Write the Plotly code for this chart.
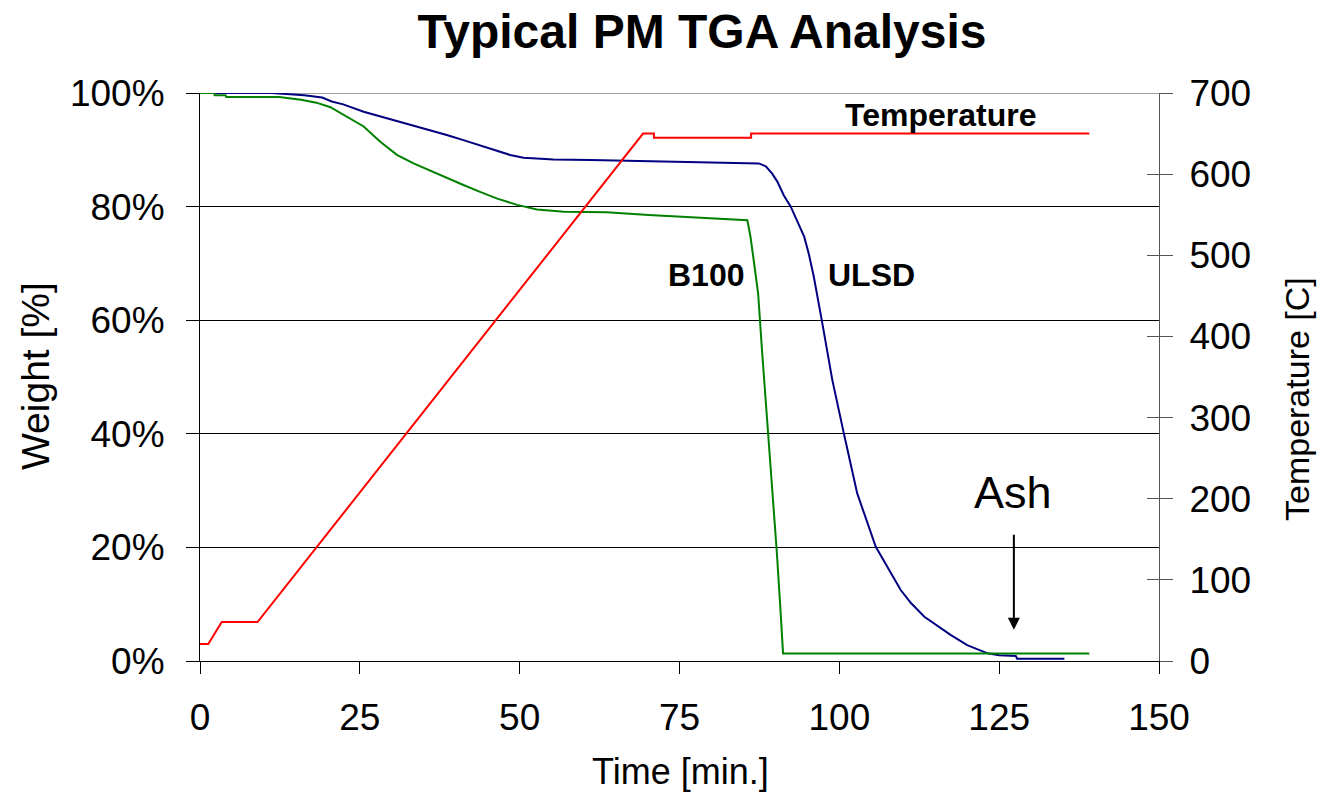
import plotly.graph_objects as go

# ---- data ----
temp_t = [0, 1.3, 3.4, 9.0, 69.3, 71.0, 71.0, 86.2, 86.2, 139.1]
temp_c = [21, 21, 48, 48, 650, 650, 645, 645, 650, 650]

ulsd_t = [0, 11.2, 16.3, 19.1, 20.6, 22.4, 25.6, 28.2, 30.8, 33.4, 36.0, 38.6, 41.2,
          43.8, 46.5, 48.5, 50.6, 53.0, 55.3, 61.1, 87.1, 87.4, 88.5, 89.5, 90.3,
          91.3, 92.4, 93.4, 94.5, 95.2, 96.0, 97.3, 98.9, 100.7, 102.8, 105.7,
          107.5, 109.6, 111.2, 113.3, 117.4, 120.0, 123.2, 125.0, 127.6, 127.8, 135.2]
ulsd_w = [100, 100, 99.6, 99.2, 98.5, 98.0, 96.7, 95.9, 95.1, 94.3, 93.5, 92.6, 91.7,
          90.8, 89.8, 89.1, 88.6, 88.4, 88.3, 88.2, 87.7, 87.6, 87.1, 85.8, 84.4,
          82.0, 80.0, 77.4, 74.7, 71.8, 67.7, 59.7, 49.5, 40.1, 29.5, 20.1,
          16.6, 12.5, 10.2, 7.8, 4.6, 2.8, 1.35, 1.0, 0.9, 0.4, 0.4]

b100_t = [0, 2.2, 2.3, 4.0, 4.1, 12.4, 15.8, 18.2, 20.4, 22.8, 25.6, 28.2, 30.8, 33.4,
          36.0, 38.6, 41.2, 43.8, 46.5, 49.6, 52.7, 56.9, 63.6, 70.2, 74.9, 85.6,
          85.8, 86.1, 86.6, 87.3, 87.9, 88.7, 89.5, 90.2, 90.7, 91.1, 91.2, 139.1]
b100_w = [100, 100, 99.6, 99.6, 99.3, 99.3, 98.8, 98.3, 97.5, 95.9, 94.1, 91.4, 89.1, 87.6,
          86.3, 85.0, 83.8, 82.6, 81.4, 80.3, 79.5, 79.1, 79.0, 78.5, 78.2, 77.6,
          76.5, 74.7, 70.6, 64.7, 54.8, 43.0, 31.3, 19.5, 10.7, 1.9, 1.3, 1.3]

x_ticks = [0, 25, 50, 75, 100, 125, 150]
w_ticks = [0, 20, 40, 60, 80, 100]
w_labels = ["0%", "20%", "40%", "60%", "80%", "100%"]
t_ticks = [0, 100, 200, 300, 400, 500, 600, 700]

FONT = "Liberation Sans, Arial, sans-serif"

# plot-area geometry in pixels (for paper-referenced text)
L, R, T, B = 200, 1159, 93, 661
def px(x):
    return (x - L) / (R - L)
def py(y):
    return (B - y) / (B - T)

fig = go.Figure()
fig.add_trace(go.Scatter(x=temp_t, y=temp_c, mode="lines", yaxis="y2",
                         line=dict(color="#FF0000", width=2), name="Temperature"))
fig.add_trace(go.Scatter(x=ulsd_t, y=ulsd_w, mode="lines",
                         line=dict(color="#000080", width=2), name="ULSD"))
fig.add_trace(go.Scatter(x=b100_t, y=b100_w, mode="lines",
                         line=dict(color="#008000", width=2), name="B100"))

fig.update_layout(
    width=1322, height=803,
    margin=dict(l=L, r=1322 - R, t=T, b=803 - B),
    paper_bgcolor="white", plot_bgcolor="white",
    showlegend=False,
    font=dict(family=FONT, color="black"),
    title=dict(text="<b>Typical PM TGA Analysis</b>", x=702 / 1322, xanchor="center",
               xref="container",
               y=1 - 31 / 803, yanchor="middle", font=dict(size=48, family=FONT)),
    xaxis=dict(range=[0, 150], tickvals=x_ticks, showgrid=False, zeroline=False,
               showline=True, linecolor="black", linewidth=1,
               ticks="outside", ticklen=12, tickcolor="black",
               tickfont=dict(size=37), ticklabelstandoff=12),
    yaxis=dict(range=[0, 100], tickvals=w_ticks, ticktext=w_labels, showgrid=True,
               gridcolor="black", gridwidth=1, zeroline=False,
               showline=True, linecolor="black", linewidth=1,
               ticks="outside", ticklen=13, tickcolor="black",
               tickfont=dict(size=37), ticklabelstandoff=14),
    yaxis2=dict(range=[0, 700], tickvals=t_ticks, overlaying="y", side="right",
                showgrid=False, zeroline=False, showline=True, linecolor="#555555",
                linewidth=1, ticks="outside", ticklen=13, tickcolor="#555555",
                tickfont=dict(size=37), ticklabelstandoff=9),
    yaxis3=dict(range=[0, 100], tickvals=w_ticks, overlaying="y", side="left",
                showgrid=False, zeroline=False, showline=False, showticklabels=False,
                ticks="inside", ticklen=10, tickcolor="black"),
    yaxis4=dict(range=[0, 700], tickvals=t_ticks, overlaying="y", side="right",
                showgrid=False, zeroline=False, showline=False, showticklabels=False,
                ticks="inside", ticklen=12, tickcolor="#555555"),
)

# invisible traces to activate the tick-only axes
fig.add_trace(go.Scatter(x=[0], y=[0], yaxis="y3", mode="markers",
                         marker=dict(opacity=0), hoverinfo="skip"))
fig.add_trace(go.Scatter(x=[0], y=[0], yaxis="y4", mode="markers",
                         marker=dict(opacity=0), hoverinfo="skip"))

# top frame line
fig.add_shape(type="line", xref="paper", yref="y", x0=0, x1=1, y0=100, y1=100,
              line=dict(color="#808080", width=1.5), layer="below")

# axis titles
fig.add_annotation(xref="paper", yref="paper", x=px(36), y=py(376), text="Weight [%]",
                   textangle=-90, showarrow=False, font=dict(size=39),
                   xanchor="center", yanchor="middle")
fig.add_annotation(xref="paper", yref="paper", x=px(1297), y=py(399), text="Temperature [C]",
                   textangle=-90, showarrow=False, font=dict(size=34),
                   xanchor="center", yanchor="middle")
fig.add_annotation(xref="paper", yref="paper", x=px(680), y=py(771), text="Time [min.]",
                   showarrow=False, font=dict(size=36),
                   xanchor="center", yanchor="middle")

# curve labels
fig.add_annotation(x=115.9, y=96.1, text="<b>Temperature</b>", showarrow=False,
                   font=dict(size=32), xanchor="center", yanchor="middle")
fig.add_annotation(x=79.2, y=68, text="<b>B100</b>", showarrow=False, font=dict(size=32),
                   xanchor="center", yanchor="middle")
fig.add_annotation(x=105.0, y=68, text="<b>ULSD</b>", showarrow=False, font=dict(size=32),
                   xanchor="center", yanchor="middle")
fig.add_annotation(x=127.1, y=29.6, text="Ash", showarrow=False, font=dict(size=45),
                   xanchor="center", yanchor="middle")
fig.add_annotation(x=127.3, y=5.5, ax=127.3, ay=22.5, axref="x", ayref="y",
                   text="", showarrow=True, arrowhead=2, arrowsize=1.2,
                   arrowwidth=2, arrowcolor="black")

fig.write_html("out.html")
